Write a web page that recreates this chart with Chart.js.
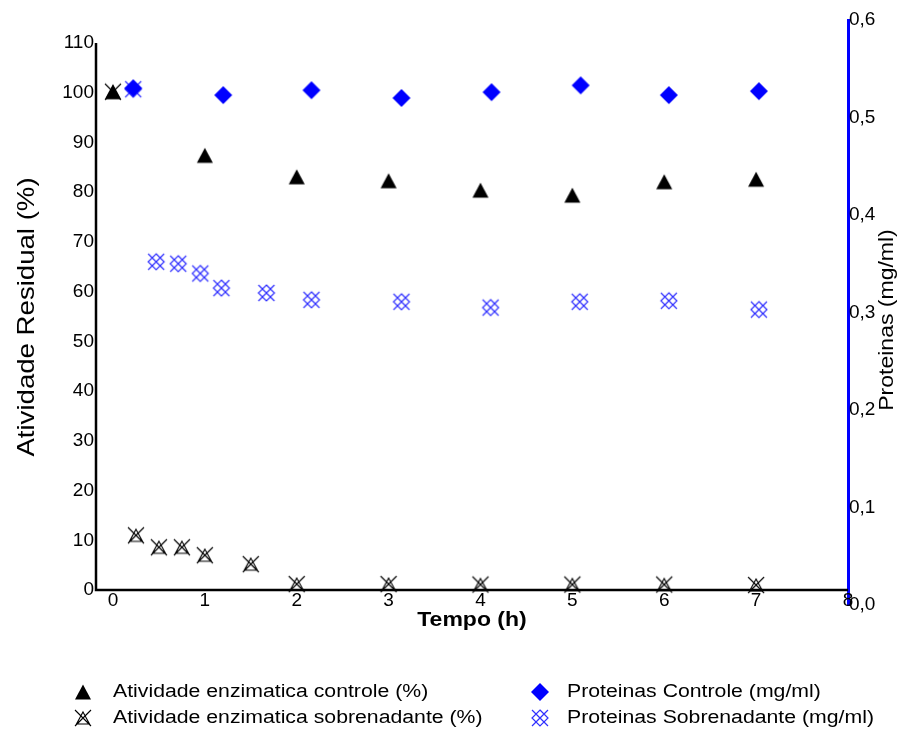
<!DOCTYPE html>
<html>
<head>
<meta charset="utf-8">
<script src="https://cdn.jsdelivr.net/npm/chart.js@4.4.0/dist/chart.umd.min.js"></script>
<style>
    html, body { margin: 0; padding: 0; background: #fff; }
    #wrap { width: 899px; height: 733px; }
</style>
</head>
<body>
<div id="wrap"><canvas id="grafico" width="899" height="733"></canvas></div>
<script>
// dados
const tempoControle = [0, 1, 2, 3, 4, 5, 6, 7];
const atividadeControle = [100.2, 87.4, 83.1, 82.3, 80.4, 79.4, 82.1, 82.6];

const tempoSobrenadante = [0, 0.25, 0.5, 0.75, 1, 1.5, 2, 3, 4, 5, 6, 7];
const atividadeSobrenadante = [100.2, 11.0, 8.6, 8.6, 7.0, 5.2, 1.2, 1.2, 1.1, 1.1, 1.1, 1.0];

const tempoProtControle = [0.22, 1.2, 2.16, 3.14, 4.12, 5.09, 6.05, 7.03];
const proteinasControle = [0.530, 0.523, 0.528, 0.520, 0.526, 0.533, 0.523, 0.527];

const tempoProtSobrenadante = [0.22, 0.47, 0.71, 0.95, 1.18, 1.67, 2.16, 3.14, 4.11, 5.08, 6.05, 7.03];
const proteinasSobrenadante = [0.529, 0.352, 0.350, 0.340, 0.325, 0.320, 0.313, 0.311, 0.305, 0.311, 0.312, 0.303];

const ticksTempo = [0, 1, 2, 3, 4, 5, 6, 7, 8];
const ticksAtividade = [0, 10, 20, 30, 40, 50, 60, 70, 80, 90, 100, 110];
const ticksProteinas = [0, 0.1, 0.2, 0.3, 0.4, 0.5, 0.6];

const FONTE = '"Liberation Sans", Arial, sans-serif';
const ESTICAR = 1.15;

function pares(xs, ys) {
    return xs.map((v, i) => ({ x: v, y: ys[i] }));
}

function marcador(tipo) {
    const c = document.createElement('canvas');
    c.width = 22;
    c.height = 22;
    const g = c.getContext('2d');
    const m = 11;
    if (tipo === 'triangulo') {
        g.fillStyle = '#000';
        g.beginPath();
        g.moveTo(m, m - 7.5);
        g.lineTo(m + 8, m + 7.5);
        g.lineTo(m - 8, m + 7.5);
        g.closePath();
        g.fill();
    } else if (tipo === 'trianguloX') {
        g.strokeStyle = '#000';
        g.lineWidth = 1.1;
        g.beginPath();
        g.moveTo(m, m - 6);
        g.lineTo(m + 6.5, m + 6);
        g.lineTo(m - 6.5, m + 6);
        g.closePath();
        g.moveTo(m - 8, m - 8);
        g.lineTo(m + 8, m + 8);
        g.moveTo(m + 8, m - 8);
        g.lineTo(m - 8, m + 8);
        g.stroke();
    } else if (tipo === 'losango') {
        g.fillStyle = '#0000ff';
        g.beginPath();
        g.moveTo(m, m - 9);
        g.lineTo(m + 9, m);
        g.lineTo(m, m + 9);
        g.lineTo(m - 9, m);
        g.closePath();
        g.fill();
    } else {
        g.strokeStyle = '#3030ff';
        g.lineWidth = 1.2;
        g.beginPath();
        g.moveTo(m, m - 8);
        g.lineTo(m + 8, m);
        g.lineTo(m, m + 8);
        g.lineTo(m - 8, m);
        g.closePath();
        g.moveTo(m - 8, m - 8);
        g.lineTo(m + 8, m + 8);
        g.moveTo(m + 8, m - 8);
        g.lineTo(m - 8, m + 8);
        g.stroke();
    }
    return c;
}

const mTriangulo = marcador('triangulo');
const mTrianguloX = marcador('trianguloX');
const mLosango = marcador('losango');
const mLosangoX = marcador('losangoX');

function texto(ctx, s, x, y, ang, fonte, alinhar, esticar = ESTICAR) {
    ctx.save();
    ctx.translate(x, y);
    ctx.rotate(ang);
    ctx.scale(esticar, 1);
    ctx.font = fonte;
    ctx.textAlign = alinhar;
    ctx.textBaseline = 'middle';
    ctx.fillStyle = '#000';
    ctx.fillText(s, 0, 0);
    ctx.restore();
}

const extras = {
    id: 'extras',
    beforeDatasetsDraw(chart) {
        const { ctx, scales: { x, y } } = chart;
        const y0 = y.getPixelForValue(0);
        const yTopo = y.getPixelForValue(110);
        ctx.save();
        ctx.strokeStyle = '#000';
        ctx.lineWidth = 2.5;
        ctx.beginPath();
        ctx.moveTo(x.left, yTopo);
        ctx.lineTo(x.left, y0);
        ctx.lineTo(x.right, y0);
        ctx.stroke();
        ctx.restore();
    },
    afterDraw(chart) {
        const { ctx, scales: { x, y } } = chart;
        // rotulos do eixo x logo abaixo da linha do zero
        const yRotulo = y.getPixelForValue(0) + 11;
        ticksTempo.forEach(v => {
            texto(ctx, String(v), x.getPixelForValue(v), yRotulo, 0, '19px ' + FONTE, 'center', 1);
        });

        texto(ctx, 'Atividade Residual (%)', 27, 317, -Math.PI / 2, '24px ' + FONTE, 'center');
        texto(ctx, 'Proteinas (mg/ml)', 887, 320, -Math.PI / 2, '20px ' + FONTE, 'center');
        texto(ctx, 'Tempo (h)', 472, 620, 0, 'bold 20px ' + FONTE, 'center');

        const legenda = [
            [mTriangulo, 'Atividade enzimatica controle (%)', 83, 113, 692],
            [mTrianguloX, 'Atividade enzimatica sobrenadante (%)', 83, 113, 718],
            [mLosango, 'Proteinas Controle (mg/ml)', 540, 567, 692],
            [mLosangoX, 'Proteinas Sobrenadante (mg/ml)', 540, 567, 718]
        ];
        legenda.forEach(([img, rotulo, xm, xt, yl]) => {
            ctx.drawImage(img, xm - img.width / 2, yl - img.height / 2);
            texto(ctx, rotulo, xt, yl, 0, '18px ' + FONTE, 'left', 1.18);
        });
    }
};

const ctx = document.getElementById('grafico').getContext('2d');
const grafico = new Chart(ctx, {
    type: 'scatter',
    data: {
        datasets: [
            {
                label: 'Atividade enzimatica controle (%)',
                data: pares(tempoControle, atividadeControle),
                pointStyle: mTriangulo,
                pointRadius: 8,
                yAxisID: 'y'
            },
            {
                label: 'Atividade enzimatica sobrenadante (%)',
                data: pares(tempoSobrenadante, atividadeSobrenadante),
                pointStyle: mTrianguloX,
                pointRadius: 8,
                yAxisID: 'y'
            },
            {
                label: 'Proteinas Controle (mg/ml)',
                data: pares(tempoProtControle, proteinasControle),
                pointStyle: mLosango,
                pointRadius: 9,
                yAxisID: 'y1'
            },
            {
                label: 'Proteinas Sobrenadante (mg/ml)',
                data: pares(tempoProtSobrenadante, proteinasSobrenadante),
                pointStyle: mLosangoX,
                pointRadius: 9,
                yAxisID: 'y1'
            }
        ]
    },
    options: {
        responsive: false,
        animation: false,
        events: [],
        clip: false,
        layout: { padding: { top: 20, left: 0, right: 0, bottom: 0 } },
        plugins: {
            legend: { display: false },
            tooltip: { enabled: false }
        },
        scales: {
            x: {
                type: 'linear',
                position: 'bottom',
                min: -0.185,
                max: 8,
                afterBuildTicks: s => { s.ticks = ticksTempo.map(v => ({ value: v })); },
                afterFit: s => { s.height = 128; },
                grid: { display: false, drawTicks: false },
                border: { display: false },
                ticks: { display: false }
            },
            y: {
                type: 'linear',
                position: 'left',
                min: -3.01,
                max: 114.62,
                afterBuildTicks: s => { s.ticks = ticksAtividade.map(v => ({ value: v })); },
                afterFit: s => { s.width = 96; },
                grid: { display: false, drawTicks: false },
                border: { display: false },
                ticks: {
                    color: '#000',
                    padding: 2,
                    font: { size: 19, family: FONTE }
                }
            },
            y1: {
                type: 'linear',
                position: 'right',
                min: 0,
                max: 0.6,
                afterBuildTicks: s => { s.ticks = ticksProteinas.map(v => ({ value: v })); },
                afterFit: s => { s.width = 51; },
                grid: { display: false, drawTicks: false },
                border: { display: true, color: '#0000ff', width: 3 },
                ticks: {
                    color: '#000',
                    padding: 1,
                    font: { size: 19, family: FONTE },
                    callback: v => v.toFixed(1).replace('.', ',')
                }
            }
        }
    },
    plugins: [extras]
});
</script>
</body>
</html>
